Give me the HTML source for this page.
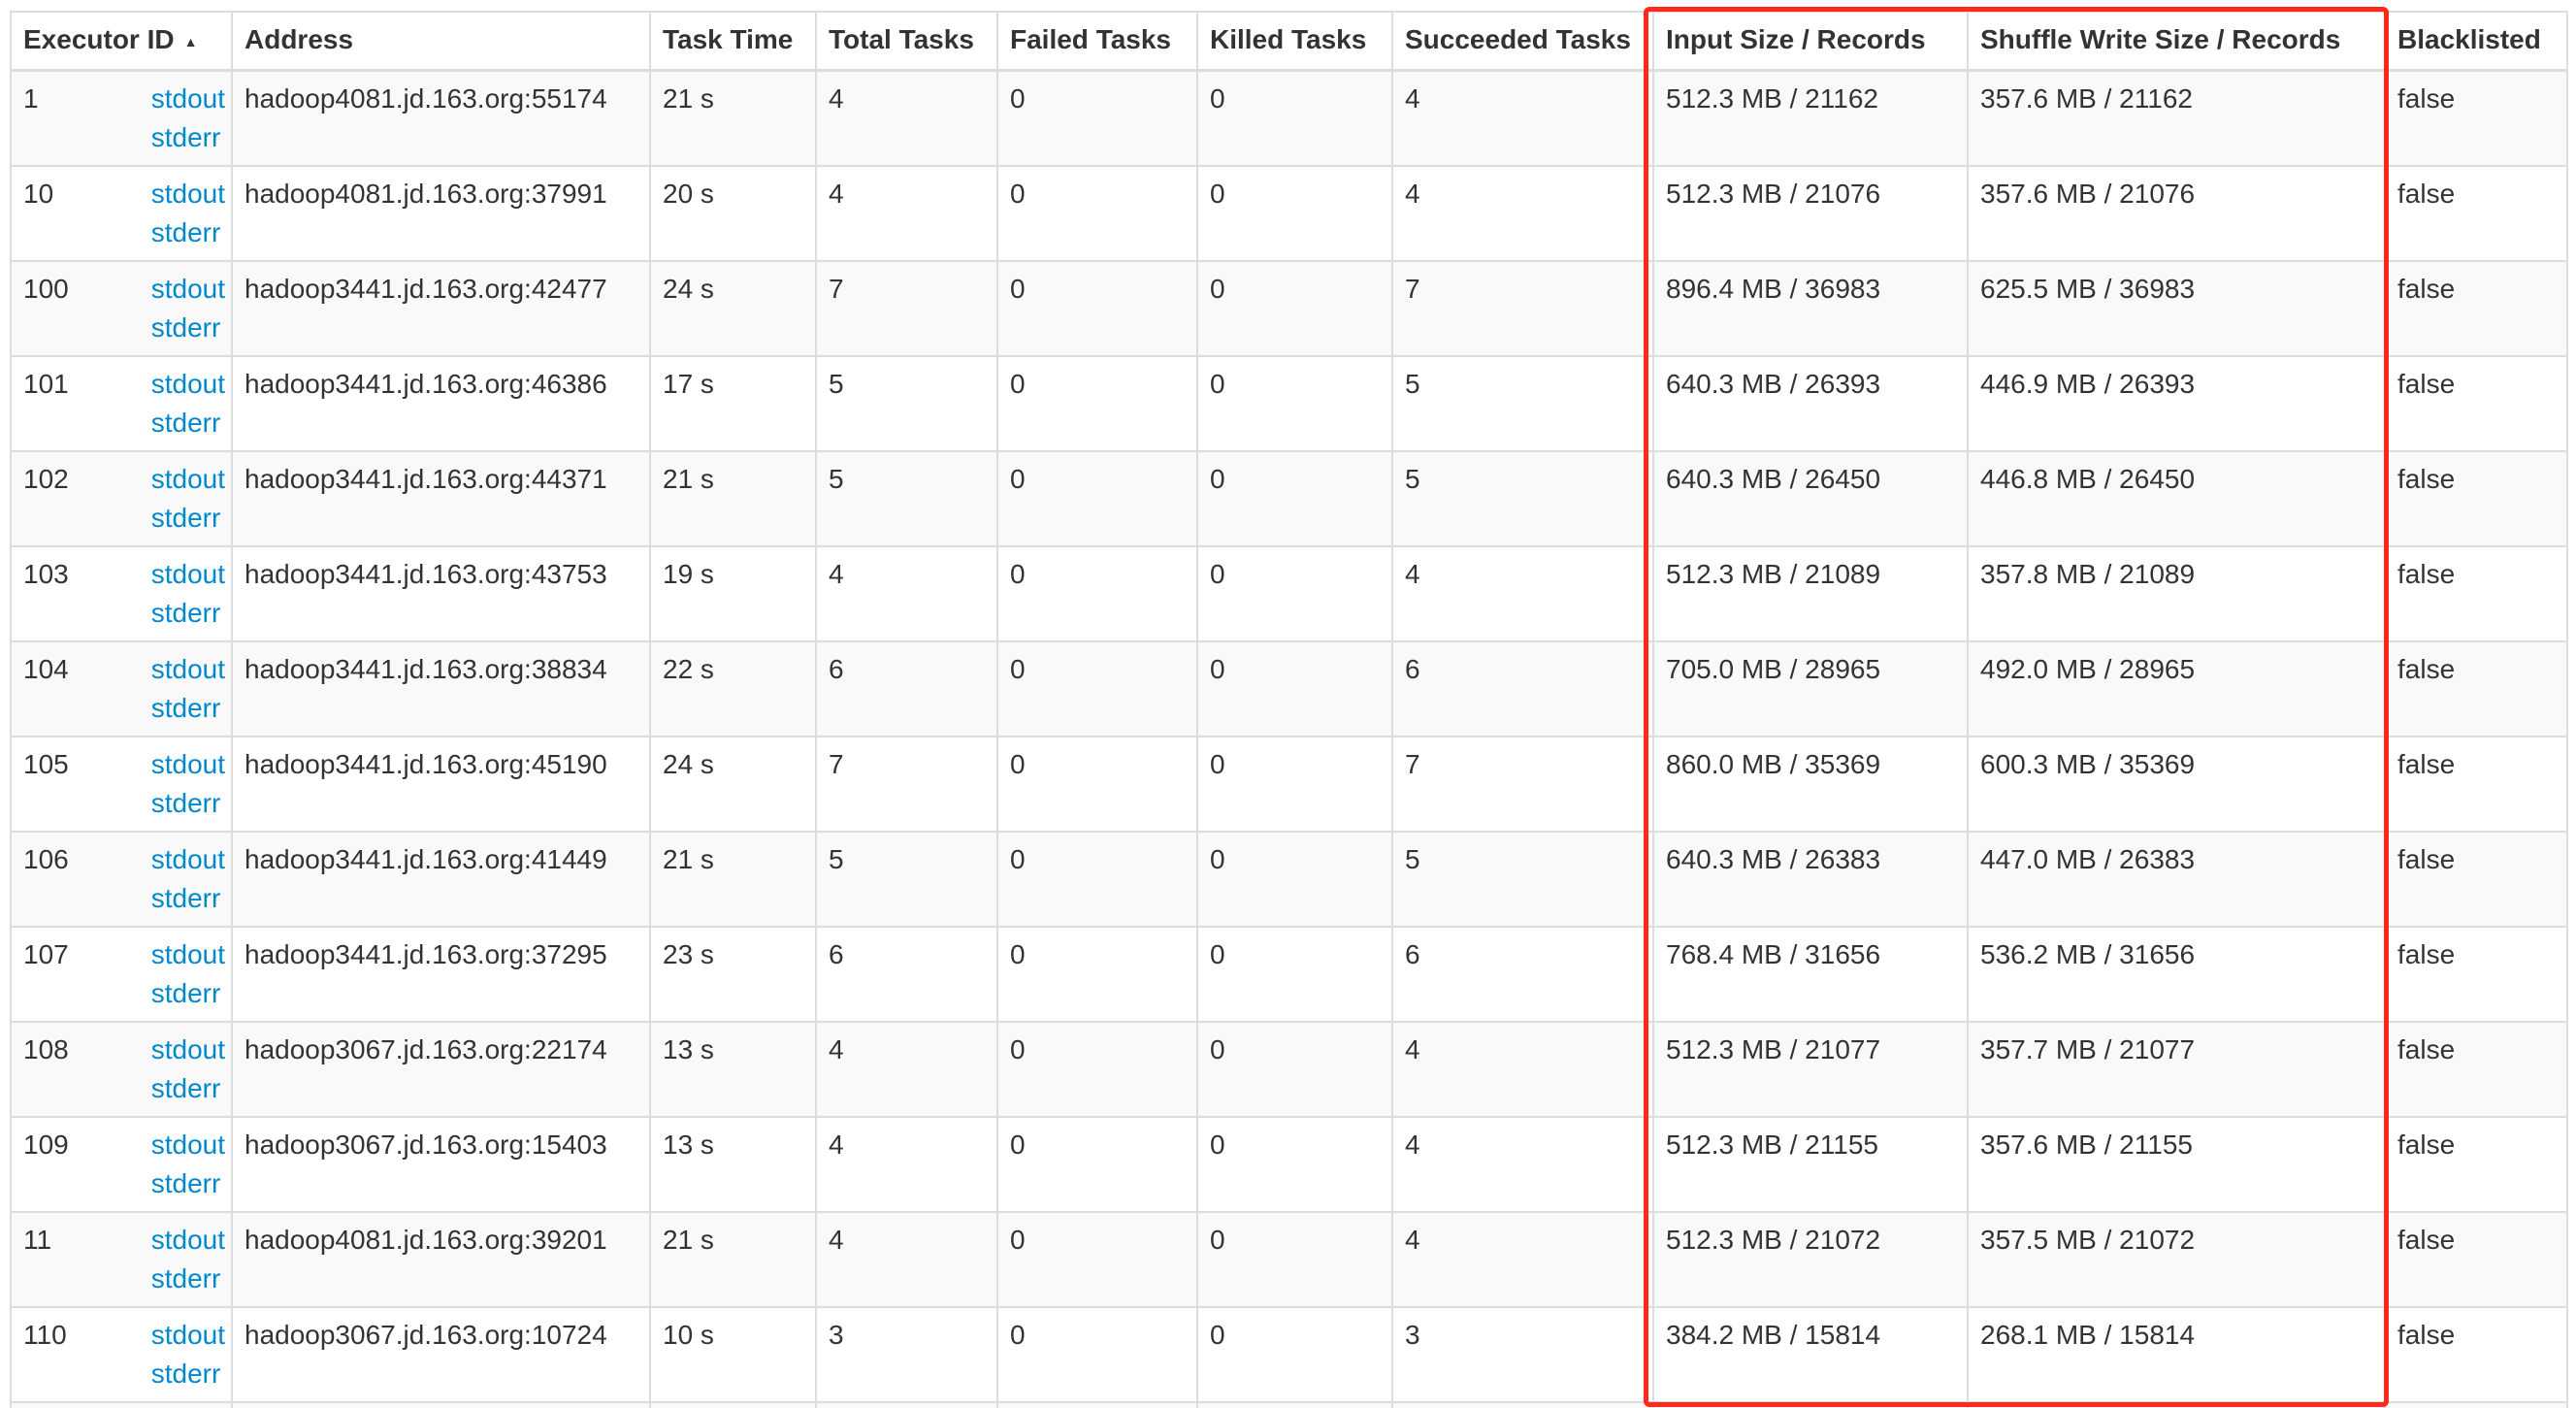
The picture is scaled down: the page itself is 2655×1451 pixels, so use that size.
<!DOCTYPE html>
<html><head><meta charset="utf-8">
<style>
html,body{margin:0;padding:0;background:#fff;width:2655px;height:1451px;overflow:hidden}
body{font-family:"Liberation Sans",Arial,sans-serif;font-size:28px;color:#333}
#wrap{position:relative;width:2655px;height:1451px;overflow:hidden}
table{position:absolute;left:10px;top:11px;border-collapse:collapse;table-layout:fixed;width:2635px}
th,td{border:2px solid #ddd;padding:8px 12px;vertical-align:top;line-height:40px;text-align:left;white-space:nowrap;overflow:hidden}
th{font-weight:bold;height:38px;border-bottom:3px solid #ddd;background:#fff}
td{height:80px}
tbody tr{height:98px}
tbody tr:nth-child(odd) td{background:#f9f9f9}
a{color:#0088cc;text-decoration:none}
.logs{float:right;text-align:left;margin-right:-6px}
.arrow{font-size:14px;margin-left:10px;vertical-align:2px}
#hl{position:absolute;left:1694px;top:7px;width:758px;height:1433px;border:5px solid #ff2a1a;border-radius:6px;pointer-events:none}
</style></head><body>
<div id="wrap">
<table>
<colgroup><col style="width:228px"><col style="width:431px"><col style="width:171px"><col style="width:187px"><col style="width:206px"><col style="width:201px"><col style="width:269px"><col style="width:324px"><col style="width:430px"><col style="width:188px"></colgroup>
<thead><tr>
<th>Executor ID<span class="arrow">▲</span></th>
<th>Address</th>
<th>Task Time</th>
<th>Total Tasks</th>
<th>Failed Tasks</th>
<th>Killed Tasks</th>
<th>Succeeded Tasks</th>
<th>Input Size / Records</th>
<th>Shuffle Write Size / Records</th>
<th>Blacklisted</th>
</tr></thead>
<tbody id="tb"></tbody>
</table>
<div id="hl"></div>
</div>
<script>
const ids=["1","10","100","101","102","103","104","105","106","107","108","109","11","110",""];
const addrs=["hadoop4081.jd.163.org:55174","hadoop4081.jd.163.org:37991","hadoop3441.jd.163.org:42477","hadoop3441.jd.163.org:46386","hadoop3441.jd.163.org:44371","hadoop3441.jd.163.org:43753","hadoop3441.jd.163.org:38834","hadoop3441.jd.163.org:45190","hadoop3441.jd.163.org:41449","hadoop3441.jd.163.org:37295","hadoop3067.jd.163.org:22174","hadoop3067.jd.163.org:15403","hadoop4081.jd.163.org:39201","hadoop3067.jd.163.org:10724",""];
const times=["21 s","20 s","24 s","17 s","21 s","19 s","22 s","24 s","21 s","23 s","13 s","13 s","21 s","10 s",""];
const tasks=["4","4","7","5","5","4","6","7","5","6","4","4","4","3",""];
const inputs=["512.3 MB / 21162","512.3 MB / 21076","896.4 MB / 36983","640.3 MB / 26393","640.3 MB / 26450","512.3 MB / 21089","705.0 MB / 28965","860.0 MB / 35369","640.3 MB / 26383","768.4 MB / 31656","512.3 MB / 21077","512.3 MB / 21155","512.3 MB / 21072","384.2 MB / 15814",""];
const shuffles=["357.6 MB / 21162","357.6 MB / 21076","625.5 MB / 36983","446.9 MB / 26393","446.8 MB / 26450","357.8 MB / 21089","492.0 MB / 28965","600.3 MB / 35369","447.0 MB / 26383","536.2 MB / 31656","357.7 MB / 21077","357.6 MB / 21155","357.5 MB / 21072","268.1 MB / 15814",""];
const tb=document.getElementById('tb');
for(let i=0;i<ids.length;i++){
  const tr=document.createElement('tr');
  
  
  const blank=ids[i]==="";
  const cells=[
    blank?'':ids[i]+'<span class="logs"><a>stdout</a><br><a>stderr</a></span>',
    addrs[i],times[i],tasks[i],blank?'':'0',blank?'':'0',tasks[i],inputs[i],shuffles[i],blank?'':'false'];
  const names=['executor-id-cell','address-cell','task-time-cell','total-tasks-cell','failed-tasks-cell','killed-tasks-cell','succeeded-tasks-cell','input-size-cell','shuffle-write-cell','blacklisted-cell'];
  cells.forEach((c,j)=>{
    const td=document.createElement('td');
    
    
    td.innerHTML=c;
    tr.appendChild(td);
  });
  tb.appendChild(tr);
}
</script>
</body></html>
